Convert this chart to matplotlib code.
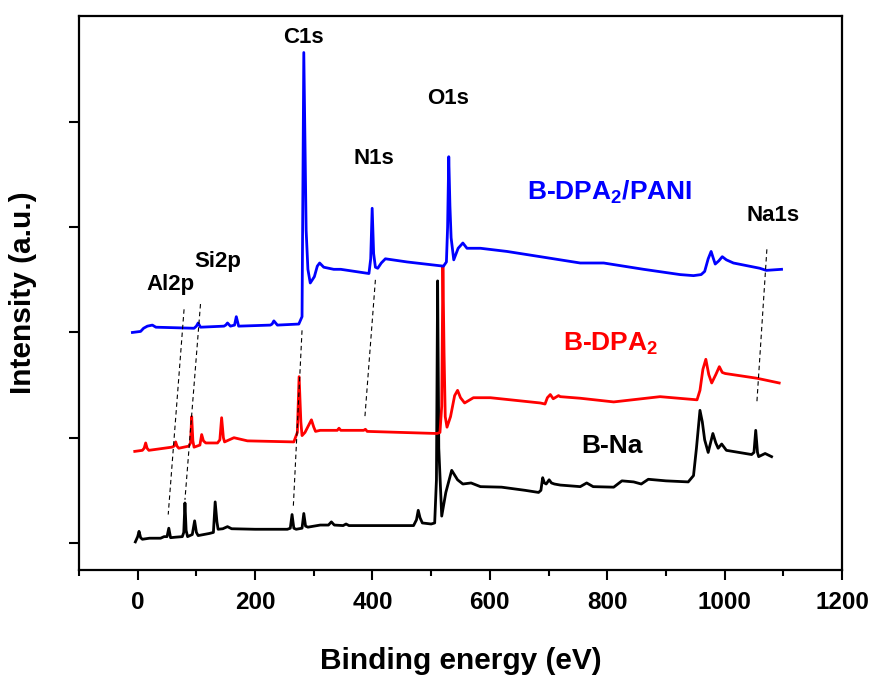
import matplotlib
matplotlib.use("Agg")
import matplotlib.pyplot as plt

# --- Fonts (Arial-like bold everywhere) ---
plt.rcParams['font.family'] = ['Liberation Sans', 'DejaVu Sans']
plt.rcParams['font.weight'] = 'bold'
plt.rcParams['mathtext.fontset'] = 'custom'
plt.rcParams['mathtext.rm'] = 'Liberation Sans:bold'
plt.rcParams['mathtext.it'] = 'Liberation Sans:bold'
plt.rcParams['mathtext.bf'] = 'Liberation Sans:bold'

# --- Data (offset for clarity) ---
# B-Na
bna_e = [-4, 0, 2.3, 5, 8, 20, 39, 45, 50, 53, 56, 65, 76, 78.5, 80.5, 82.5, 85, 93, 97, 100,
         103, 122, 129, 132, 135, 137, 145, 153, 160, 200, 255, 260, 263, 266, 270, 280, 283,
         286, 290, 311, 325, 330, 335, 350, 355, 360, 400, 470, 475, 478, 481, 485, 500, 506,
         509, 511, 513, 518, 525, 535, 545, 554, 568, 584, 620, 660, 683, 687, 690, 693, 696,
         701, 705, 710, 720, 754, 765, 776, 811, 825, 845, 858, 870, 900, 938, 947, 952, 958,
         962, 966, 972, 980, 985, 989, 995, 1003, 1046, 1050, 1053, 1056, 1058, 1069, 1080]
bna_i = [0.01, 0.06, 0.11, 0.05, 0.035, 0.045, 0.045, 0.06, 0.06, 0.14, 0.05, 0.055, 0.06, 0.10,
         0.38, 0.12, 0.06, 0.08, 0.21, 0.10, 0.07, 0.09, 0.10, 0.39, 0.20, 0.13, 0.135, 0.155,
         0.135, 0.13, 0.13, 0.14, 0.27, 0.14, 0.13, 0.14, 0.28, 0.16, 0.15, 0.17, 0.17, 0.20,
         0.17, 0.165, 0.18, 0.165, 0.165, 0.165, 0.22, 0.31, 0.24, 0.19, 0.18, 0.19, 0.60, 2.49,
         0.90, 0.255, 0.48, 0.69, 0.60, 0.56, 0.57, 0.535, 0.53, 0.50, 0.48, 0.50, 0.62, 0.57,
         0.56, 0.60, 0.57, 0.56, 0.55, 0.535, 0.57, 0.535, 0.53, 0.59, 0.58, 0.56, 0.605, 0.59,
         0.58, 0.64, 0.90, 1.26, 1.15, 0.98, 0.86, 1.04, 0.95, 0.90, 0.94, 0.88, 0.84, 0.86,
         1.07, 0.86, 0.82, 0.85, 0.82]

# B-DPA2
dpa_e = [-5, 8, 11, 13.6, 16, 19, 45, 58, 62, 64.7, 67, 70, 87, 90, 92, 94, 96, 106, 109, 112,
         116, 136, 140, 143, 146, 148, 164, 187, 266, 272, 275, 278, 280, 285, 296, 300, 303,
         311, 340, 343, 346, 385, 388, 391, 450, 510, 515, 518, 520, 522, 524, 527, 533, 540,
         545, 550, 557, 572, 601, 686, 694, 698, 703, 708, 717, 720, 754, 811, 890, 953, 958,
         963, 968, 973, 978, 985, 991, 996, 1001, 1055, 1093]
dpa_i = [0.87, 0.88, 0.90, 0.95, 0.90, 0.88, 0.90, 0.91, 0.92, 0.96, 0.92, 0.90, 0.92, 0.95,
         1.20, 0.97, 0.91, 0.93, 1.03, 0.97, 0.95, 0.95, 0.98, 1.19, 1.00, 0.96, 1.00, 0.97,
         0.96, 1.05, 1.58, 1.15, 1.02, 1.05, 1.17, 1.10, 1.06, 1.07, 1.07, 1.09, 1.07, 1.07,
         1.08, 1.06, 1.05, 1.04, 1.05, 1.30, 2.63, 1.80, 1.20, 1.10, 1.20, 1.40, 1.45, 1.38,
         1.33, 1.38, 1.38, 1.33, 1.32, 1.38, 1.41, 1.37, 1.40, 1.39, 1.375, 1.34, 1.39, 1.36,
         1.45, 1.65, 1.745, 1.60, 1.52, 1.60, 1.675, 1.62, 1.61, 1.565, 1.52]

# B-DPA2/PANI
pani_e = [-9, 5, 10, 16.5, 25, 31, 96, 100, 103, 107, 147, 150, 153, 158, 165, 168, 172, 226,
          229, 232, 238, 274.5, 280, 283, 287, 290, 294, 301, 306, 310, 317, 334, 346, 394, 397,
          399.5, 402, 405, 409, 415, 422, 459, 521, 526, 528, 530, 532, 534, 538.5, 546, 554,
          561, 584, 629, 686, 720, 754, 794, 862, 924, 947, 960, 966, 972, 977, 981, 984, 990,
          996, 1003, 1015, 1060, 1071, 1097]
pani_i = [2.00, 2.01, 2.04, 2.06, 2.07, 2.05, 2.04, 2.06, 2.09, 2.05, 2.06, 2.07, 2.09, 2.06,
          2.07, 2.15, 2.06, 2.07, 2.08, 2.11, 2.07, 2.08, 2.15, 4.66, 2.97, 2.60, 2.47, 2.53,
          2.63, 2.66, 2.62, 2.60, 2.60, 2.56, 2.70, 3.18, 2.75, 2.62, 2.61, 2.66, 2.70, 2.67,
          2.63, 2.67, 3.00, 3.67, 3.20, 2.90, 2.69, 2.80, 2.85, 2.80, 2.80, 2.77, 2.72, 2.69,
          2.66, 2.66, 2.60, 2.55, 2.54, 2.55, 2.58, 2.70, 2.77, 2.70, 2.65, 2.68, 2.72, 2.69,
          2.66, 2.61, 2.59, 2.60]

# guide lines joining the same peak across spectra: (e_top, i_top, e_bottom, i_bottom)
guides = [(79, 2.22, 52, 0.27),      # Al2p
          (107, 2.27, 80.5, 0.41),   # Si2p
          (280, 2.02, 265, 0.33),    # C1s
          (405, 2.50, 387, 1.19),    # N1s
          (1072, 2.79, 1055, 1.34)]  # Na1s

peak_names = ["C1s", "O1s", "N1s", "Si2p", "Al2p", "Na1s"]
peak_pos = [(282, 4.75), (529, 4.17), (402, 3.60), (137, 2.62), (56, 2.40), (1082, 3.06)]


def main():
    fig = plt.figure(figsize=(8.72, 6.78), dpi=100)
    ax = fig.add_axes([0.0906, 0.1593, 0.8750, 0.8171])

    lw = 2.0
    ax.plot(bna_e, bna_i, color='black', lw=lw)
    ax.plot(dpa_e, dpa_i, color='#ff0000', lw=lw)
    ax.plot(pani_e, pani_i, color='#0000ff', lw=lw)

    for e0, i0, e1, i1 in guides:
        ax.plot([e0, e1], [i0, i1], color='black', lw=0.8, ls=(0, (4, 3)))

    for name, (e, i) in zip(peak_names, peak_pos):
        ax.text(e, i, name, ha='center', va='baseline', fontsize=16, fontweight='bold')

    # series labels
    ax.text(804, 3.26, "B-DPA$_{2}$/PANI", color='#0000ff', ha='center', va='baseline',
            fontsize=19, fontweight='bold')
    ax.text(806, 1.83, "B-DPA$_{2}$", color='#ff0000', ha='center', va='baseline',
            fontsize=19, fontweight='bold')
    ax.text(808, 0.85, "B-Na", color='black', ha='center', va='baseline',
            fontsize=19, fontweight='bold')

    # Formatting
    ax.set_xlim(-100, 1200)
    ax.set_ylim(-0.257, 5.007)
    ax.set_xticks(range(0, 1201, 200))
    ax.set_xticks(range(-100, 1201, 100), minor=True)
    ax.set_yticks([0, 1, 2, 3, 4])
    ax.set_yticklabels([])
    ax.tick_params(axis='x', which='major', direction='out', length=7, width=1.5,
                   labelsize=17.5, pad=8)
    ax.tick_params(axis='x', which='minor', direction='out', length=4, width=1.5)
    ax.tick_params(axis='y', which='major', direction='out', length=7, width=1.5)
    for lab in ax.get_xticklabels():
        lab.set_fontweight('bold')
    for sp in ax.spines.values():
        sp.set_linewidth(1.6)

    ax.set_xlabel("Binding energy (eV)", fontsize=21.5, fontweight='bold', labelpad=24)
    ax.set_ylabel("Intensity (a.u.)", fontsize=21.5, fontweight='bold', labelpad=20)

    fig.savefig("out.png", dpi=100)


if __name__ == "__main__":
    main()
